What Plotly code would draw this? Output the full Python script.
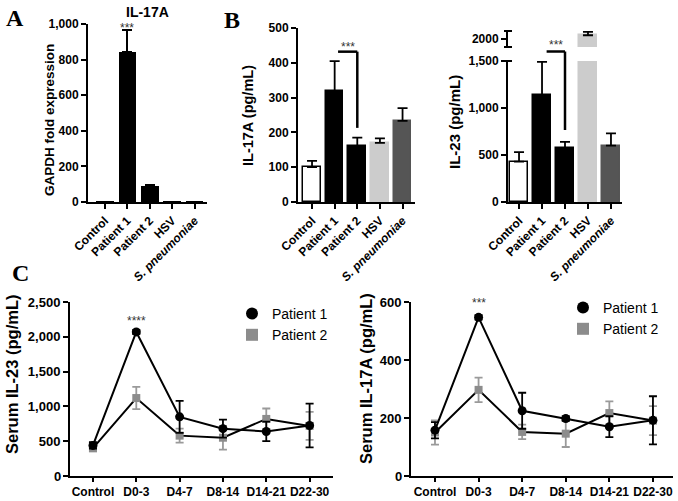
import plotly.graph_objects as go

W, H = 678, 501

# ---------------- data ----------------
groups = ["Control", "Patient 1", "Patient 2", "HSV", "<i>S. pneumoniae</i>"]
a_vals = [1, 845, 90, 1, 2]
a_err = [0, 120, 5, 0, 0]
b17_vals = [100, 318, 160, 170, 233]
b17_err = [18, 87, 25, 13, 37]
b23_vals = [430, 1140, 570, 2040, 600]
b23_err = [100, 350, 70, 35, 130]
bar_fill = ["white", "black", "black", "#cccccc", "#555555"]
bar_edge = ["black", "black", "black", "#cccccc", "#555555"]

days = ["Control", "D0-3", "D4-7", "D8-14", "D14-21", "D22-30"]
c23_p1 = [440, 2070, 850, 680, 640, 725]
c23_p1_sem = [45, 30, 230, 130, 140, 315]
c23_p2 = [400, 1120, 580, 550, 820, 720]
c23_p2_sem = [45, 160, 100, 170, 150, 200]
c17_p1 = [158, 547, 225, 198, 170, 192]
c17_p1_sem = [28, 8, 62, 8, 36, 83]
c17_p2 = [150, 297, 152, 146, 217, 191]
c17_p2_sem = [42, 42, 25, 46, 40, 50]

c1_ticks = [0, 500, 1000, 1500, 2000, 2500]
c2_ticks = [0, 200, 400, 600]

# ---------------- layout helpers ----------------
def dx(a, b):
    return [a / W, b / W]

def dy(top, bottom):
    return [1 - bottom / H, 1 - top / H]

dom = {
    "A_x": dx(88, 207), "A_y": dy(24, 202),
    "B1_x": dx(298, 415), "B1_y": dy(28, 202),
    "B2_x": dx(508, 622), "B2_y": dy(61, 202), "B2_yu": dy(31, 47),
    "C1_x": dx(70, 333), "C1_y": dy(302, 476),
    "C2_x": dx(411, 673), "C2_y": dy(302, 476),
}
rng = {
    "A_x": [-0.75, 4.55], "A_y": [0, 1000],
    "B1_x": [-0.62, 4.55], "B1_y": [0, 500],
    "B2_x": [-0.48, 4.48], "B2_y": [0, 1500], "B2_yu": [1915, 2085],
    "C1_x": [-0.53, 5.54], "C1_y": [0, 2500],
    "C2_x": [-0.55, 5.46], "C2_y": [0, 600],
}

def p(key, v):
    d, r = dom[key], rng[key]
    return d[0] + (v - r[0]) / (r[1] - r[0]) * (d[1] - d[0])

FONT = "Liberation Sans, Arial, sans-serif"
tickfont = dict(family=FONT, size=12, color="black", weight="bold")

fig = go.Figure()

xs = list(range(len(groups)))

def add_bars(vals, err, xa, ya, fills, edges, lw=1.5):
    fig.add_trace(go.Bar(
        x=xs, y=vals, width=0.78, xaxis=xa, yaxis=ya,
        marker=dict(color=fills, line=dict(color=edges, width=lw)),
        error_y=dict(type="data", array=err, arrayminus=[0] * len(err), symmetric=False,
                     color="black", thickness=1.8, width=5),
        showlegend=False,
    ))

add_bars(a_vals, a_err, "x", "y", ["black"] * 5, ["black"] * 5, lw=0)
add_bars(b17_vals, b17_err, "x2", "y2", bar_fill, bar_edge)
add_bars(b23_vals, b23_err, "x3", "y3", bar_fill, bar_edge)
add_bars(b23_vals, b23_err, "x3", "y4", bar_fill, bar_edge)

dxs = list(range(len(days)))

def add_lines(p1, p1s, p2, p2s, xa, ya):
    fig.add_trace(go.Scatter(
        x=dxs, y=p2, xaxis=xa, yaxis=ya, mode="lines+markers",
        line=dict(color="black", width=2),
        marker=dict(symbol="square", size=8, color="#8c8c8c"),
        error_y=dict(type="data", array=p2s, color="#9a9a9a", thickness=1.8, width=4),
        showlegend=False,
    ))
    fig.add_trace(go.Scatter(
        x=dxs, y=p1, xaxis=xa, yaxis=ya, mode="lines+markers",
        line=dict(color="black", width=2),
        marker=dict(symbol="circle", size=9, color="black"),
        error_y=dict(type="data", array=p1s, color="black", thickness=1.8, width=4),
        showlegend=False,
    ))

add_lines(c23_p1, c23_p1_sem, c23_p2, c23_p2_sem, "x4", "y5")
add_lines(c17_p1, c17_p1_sem, c17_p2, c17_p2_sem, "x5", "y6")

# legend-only traces
for lg, xa, ya in [("legend", "x4", "y5"), ("legend2", "x5", "y6")]:
    fig.add_trace(go.Scatter(x=[None], y=[None], xaxis=xa, yaxis=ya, mode="markers", name="Patient 1",
                             marker=dict(symbol="circle", size=9, color="black"), legend=lg))
    fig.add_trace(go.Scatter(x=[None], y=[None], xaxis=xa, yaxis=ya, mode="markers", name="Patient 2",
                             marker=dict(symbol="square", size=8, color="#8c8c8c"), legend=lg))

base_ax = dict(showline=True, linecolor="black", linewidth=2, ticks="outside", ticklen=5,
               tickwidth=2, tickcolor="black", showgrid=False, zeroline=False,
               tickfont=tickfont, fixedrange=True, automargin=False)

bar_x = dict(base_ax, tickvals=xs, ticktext=groups, tickangle=-45)
day_x = dict(base_ax, tickvals=dxs, ticktext=days, tickangle=0, ticklen=4)

# the corner "0" of panel C is written as an annotation (Plotly drops it there)
c1_text = [""] + [f"{v:,}" for v in c1_ticks[1:]]
c2_text = [""] + [f"{v}" for v in c2_ticks[1:]]

fig.update_layout(
    width=W, height=H, margin=dict(l=0, r=0, t=0, b=0),
    paper_bgcolor="white", plot_bgcolor="white",
    bargap=0,
    xaxis=dict(bar_x, domain=dom["A_x"], range=rng["A_x"], anchor="y"),
    yaxis=dict(base_ax, domain=dom["A_y"], range=rng["A_y"], anchor="x",
               tickvals=[0, 200, 400, 600, 800, 1000], tickformat=","),
    xaxis2=dict(bar_x, domain=dom["B1_x"], range=rng["B1_x"], anchor="y2"),
    yaxis2=dict(base_ax, domain=dom["B1_y"], range=rng["B1_y"], anchor="x2",
                tickvals=[0, 100, 200, 300, 400, 500]),
    xaxis3=dict(bar_x, domain=dom["B2_x"], range=rng["B2_x"], anchor="y3"),
    yaxis3=dict(base_ax, domain=dom["B2_y"], range=rng["B2_y"], anchor="x3",
                tickvals=[0, 500, 1000, 1500], tickformat=","),
    yaxis4=dict(base_ax, domain=dom["B2_yu"], range=rng["B2_yu"], anchor="x3",
                tickvals=[2000], ticktext=["2000"]),
    xaxis4=dict(day_x, domain=dom["C1_x"], range=rng["C1_x"], anchor="y5"),
    yaxis5=dict(base_ax, domain=dom["C1_y"], range=rng["C1_y"], anchor="x4",
                tickvals=c1_ticks, ticktext=c1_text, tickfont=dict(tickfont, size=13)),
    xaxis5=dict(day_x, domain=dom["C2_x"], range=rng["C2_x"], anchor="y6"),
    yaxis6=dict(base_ax, domain=dom["C2_y"], range=rng["C2_y"], anchor="x5",
                tickvals=c2_ticks, ticktext=c2_text, tickfont=dict(tickfont, size=13)),
    legend=dict(x=232 / W, y=1 - 298 / H, xanchor="left", yanchor="top",
                font=dict(family=FONT, size=14, color="black"), bgcolor="rgba(0,0,0,0)",
                itemsizing="constant", tracegroupgap=0),
    legend2=dict(x=563 / W, y=1 - 292 / H, xanchor="left", yanchor="top",
                 font=dict(family=FONT, size=14, color="black"), bgcolor="rgba(0,0,0,0)",
                 itemsizing="constant", tracegroupgap=0),
)

# ---------------- annotations ----------------
ann = []

def text(x, y, s, size=12, bold=True, angle=0, family=FONT, color="black", xanchor="center"):
    ann.append(dict(x=x, y=y, xref="paper", yref="paper", text=s, showarrow=False,
                    textangle=angle, xanchor=xanchor, yanchor="middle",
                    font=dict(family=family, size=size, color=color,
                              weight="bold" if bold else "normal")))

SERIF = "Liberation Serif, Times New Roman, serif"
text(15 / W, 1 - 18 / H, "A", size=24, family=SERIF)
text(232 / W, 1 - 20 / H, "B", size=24, family=SERIF)
text(20 / W, 1 - 273 / H, "C", size=24, family=SERIF)
text(147 / W, 1 - 12 / H, "IL-17A", size=14)

text(49 / W, 1 - 120 / H, "GAPDH fold expression", size=13.5, angle=-90)
text(248 / W, 1 - 116 / H, "IL-17A (pg/mL)", size=14.5, angle=-90)
text(454 / W, 1 - 122 / H, "IL-23 (pg/mL)", size=15, angle=-90)
text(12 / W, 1 - 374 / H, "Serum IL-23 (pg/mL)", size=16.5, angle=-90)
text(366 / W, 1 - 378 / H, "Serum IL-17A (pg/mL)", size=16.5, angle=-90)

text(dom["C1_x"][0] - 7 / W, p("C1_y", c1_ticks[0]), str(c1_ticks[0]), size=13, xanchor="right")
text(dom["C2_x"][0] - 7 / W, p("C2_y", c2_ticks[0]), str(c2_ticks[0]), size=13, xanchor="right")

# significance stars (asterisks sit high in the text box, so centre slightly low)
text(p("A_x", 1), p("A_y", 975), "***", size=12, bold=False, color="#333")
text(p("B1_x", 1.6), p("B1_y", 445), "***", size=12, bold=False, color="#333")
text(p("B2_x", 1.6), 1 - 45 / H, "***", size=12, bold=False, color="#333")
text(p("C1_x", 1), p("C1_y", 2230), "****", size=12, bold=False, color="#333")
text(p("C2_x", 1), p("C2_y", 595), "***", size=12, bold=False, color="#333")

fig.update_layout(annotations=ann)

# ---------------- brackets & axis break marks ----------------
shapes = []
def seg(x0, y0, x1, y1, w=2.5):
    shapes.append(dict(type="line", xref="paper", yref="paper", x0=x0, y0=y0, x1=x1, y1=y1,
                       line=dict(color="black", width=w)))

# B left bracket
bx0, bx1 = p("B1_x", 1.15), p("B1_x", 2.0)
by_top, by_bot = p("B1_y", 432), p("B1_y", 213)
seg(bx0, by_top, bx1, by_top)
seg(bx1, by_top, bx1, by_bot)
# B right bracket (top sits in the axis gap)
cx0, cx1 = p("B2_x", 1.2), p("B2_x", 2.0)
cy_top, cy_bot = 1 - 51.5 / H, p("B2_y", 766)
seg(cx0, cy_top, cx1, cy_top)
seg(cx1, cy_top, cx1, cy_bot)
# axis break caps
ax_x = dom["B2_x"][0]
seg(ax_x - 4 / W, dom["B2_y"][1], ax_x + 4 / W, dom["B2_y"][1], w=2)
seg(ax_x - 4 / W, dom["B2_yu"][0], ax_x + 4 / W, dom["B2_yu"][0], w=2)
seg(ax_x - 4 / W, dom["B2_yu"][1], ax_x + 4 / W, dom["B2_yu"][1], w=2)

fig.update_layout(shapes=shapes)

fig.write_html("out.html", config={"displayModeBar": False},
               post_script="document.body.style.margin='0';document.body.style.overflow='hidden';")
